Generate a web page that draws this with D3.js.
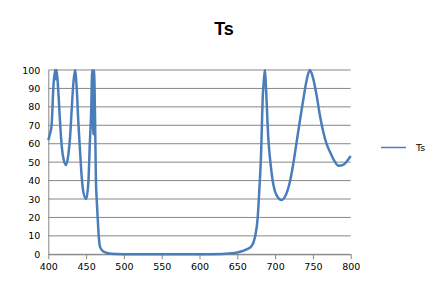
<!DOCTYPE html>
<html>
<head>
<meta charset="utf-8">
<script src="https://cdn.jsdelivr.net/npm/d3@7"></script>
<style>
  body { margin: 0; background: #fff; }
  svg { display: block; }
</style>
</head>
<body>
<svg id="chart" width="438" height="297"></svg>
<script>
// wavelength (nm) and Ts values
const wavelength = [400, 402, 404.4, 406.6, 409, 410, 411, 413, 415.5, 417.7, 420, 423.4, 426.5, 428.7, 431, 433, 435.3, 437.6, 439.7, 442, 444, 446.3, 450, 453, 455, 456.5, 458.2, 459.5, 460.5, 461.8, 463, 464, 465.3, 466.7, 468.4, 472.8, 479, 490, 510, 550, 600, 630, 640, 650, 657, 663, 669, 673.5, 677, 679, 681.5, 683.6, 685.5, 686.6, 688, 691, 694.3, 697.8, 702, 708.7, 714, 719.6, 724, 728.5, 733, 737.3, 742, 746, 750, 755, 759, 763.7, 768, 772.5, 778, 784, 790, 795, 800];
const ts = [62, 65, 70, 90, 100, 95, 100, 90, 72, 59, 52, 48.5, 54, 63, 79, 92, 100, 90, 72, 56, 43, 34, 30, 39, 61, 75, 100, 65, 100, 75, 40, 30, 20, 10, 4, 1.5, 0.6, 0.2, 0, 0, 0, 0.2, 0.5, 1, 1.8, 2.8, 4.5, 9.5, 20, 34, 55, 85, 96, 100, 90, 63, 48, 37.6, 32, 29.5, 32, 39.4, 49, 61, 73, 84, 95, 100, 96, 86, 76, 66.5, 60, 55.7, 51, 48, 48.5, 50.5, 53.3];
const xTicks = [400, 450, 500, 550, 600, 650, 700, 750, 800];
const yTicks = [0, 10, 20, 30, 40, 50, 60, 70, 80, 90, 100];
const seriesName = 'Ts';
const chartTitle = 'Ts';

const svg = d3.select('#chart');
const plotLeft = 48.3, plotRight = 350.7, plotTop = 70, plotBottom = 254.3;

const x = d3.scaleLinear().domain([400, 800]).range([plotLeft, plotRight]);
const y = d3.scaleLinear().domain([0, 100]).range([plotBottom, plotTop]);

const font = "'DejaVu Sans', sans-serif";

svg.append('text')
    .attr('x', 224)
    .attr('y', 35)
    .attr('text-anchor', 'middle')
    .attr('font-family', "'Liberation Sans', Arial, sans-serif")
    .attr('font-weight', 'bold')
    .attr('font-size', 18)
    .attr('fill', '#000')
    .text(chartTitle);

// horizontal gridlines
svg.append('g')
    .selectAll('line')
    .data(yTicks)
    .join('line')
    .attr('x1', plotLeft)
    .attr('x2', plotRight)
    .attr('y1', (d) => y(d))
    .attr('y2', (d) => y(d))
    .attr('stroke', '#878787')
    .attr('stroke-width', 1);

// y axis
const yAxis = d3.axisLeft(y).tickValues(yTicks).tickSize(0).tickPadding(8);
svg.append('g')
    .attr('transform', `translate(${plotLeft},0)`)
    .call(yAxis)
    .call((g) => g.select('.domain').attr('stroke', '#878787'))
    .call((g) => g.selectAll('text').attr('font-family', font).attr('font-size', 9.5).attr('fill', '#000'));

// x axis
const xAxis = d3.axisBottom(x).tickValues(xTicks).tickSize(5).tickSizeOuter(0).tickPadding(4);
svg.append('g')
    .attr('transform', `translate(0,${plotBottom})`)
    .call(xAxis)
    .call((g) => g.select('.domain').attr('stroke', '#878787'))
    .call((g) => g.selectAll('.tick line').attr('stroke', '#878787'))
    .call((g) => g.selectAll('text').attr('font-family', font).attr('font-size', 9.5).attr('fill', '#000'));

const line = d3.line()
    .x((d, i) => x(wavelength[i]))
    .y((d) => y(d))
    .curve(d3.curveMonotoneX);

svg.append('path')
    .datum(ts)
    .attr('d', line)
    .attr('fill', 'none')
    .attr('stroke', '#4a7ebb')
    .attr('stroke-width', 2.5)
    .attr('stroke-linejoin', 'round');

// legend
const legend = svg.append('g').attr('transform', 'translate(381,147.5)');
legend.append('line')
    .attr('x1', 0).attr('x2', 25)
    .attr('stroke', '#4a7ebb')
    .attr('stroke-width', 1.5);
legend.append('text')
    .attr('x', 35)
    .attr('y', 3.5)
    .attr('font-family', font)
    .attr('font-size', 9.5)
    .attr('fill', '#000')
    .text(seriesName);
</script>
</body>
</html>
